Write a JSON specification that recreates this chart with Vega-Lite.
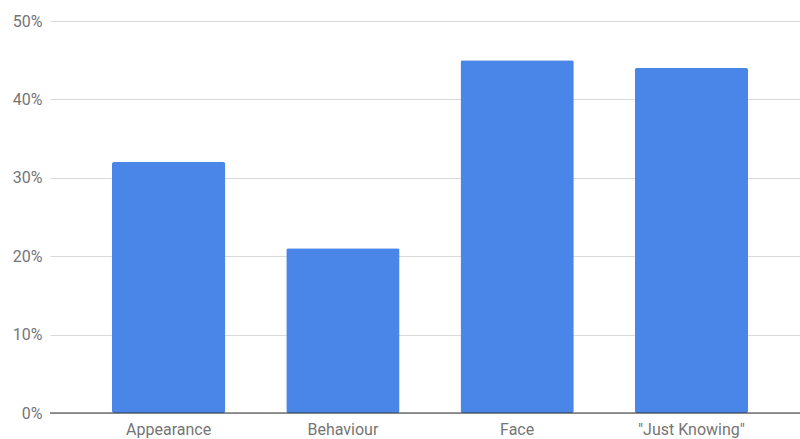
{
  "$schema": "https://vega.github.io/schema/vega-lite/v6.json",
  "width": 750,
  "height": 392,
  "autosize": {"type": "none"},
  "padding": {"left": 50, "top": 21, "right": 0, "bottom": 26},
  "background": "white",
  "data": {
    "values": [
      {"category": "Appearance", "share": 0.32},
      {"category": "Behaviour", "share": 0.21},
      {"category": "Face", "share": 0.45},
      {"category": "\"Just Knowing\"", "share": 0.44}
    ]
  },
  "config": {
    "view": {"stroke": null},
    "font": "Roboto"
  },
  "layer": [
    {
      "mark": {"type": "bar", "color": "#4a86e8", "cornerRadius": 2},
      "encoding": {
        "x": {
          "field": "category",
          "type": "nominal",
          "sort": null,
          "scale": {"paddingInner": 0.35, "paddingOuter": 0.327, "align": 0.544},
          "axis": {
            "title": null,
            "labelAngle": 0,
            "labelFont": "Roboto",
            "labelFontSize": 16,
            "labelColor": "#757575",
            "labelPadding": 8,
            "ticks": false,
            "domain": false,
            "grid": false
          }
        },
        "y": {
          "field": "share",
          "type": "quantitative",
          "scale": {"domain": [0, 0.5], "nice": false},
          "axis": {
            "title": null,
            "format": ".0%",
            "values": [0, 0.1, 0.2, 0.3, 0.4, 0.5],
            "labelFont": "Roboto",
            "labelFontSize": 16,
            "labelColor": "#757575",
            "labelPadding": 8,
            "ticks": false,
            "domain": false,
            "grid": true,
            "gridColor": "#d9d9d9",
            "gridWidth": 1
          }
        }
      }
    },
    {
      "data": {"values": [{"base": 0}]},
      "mark": {"type": "rule", "color": "#333333", "strokeWidth": 1},
      "encoding": {
        "y": {"field": "base", "type": "quantitative"}
      }
    }
  ]
}
